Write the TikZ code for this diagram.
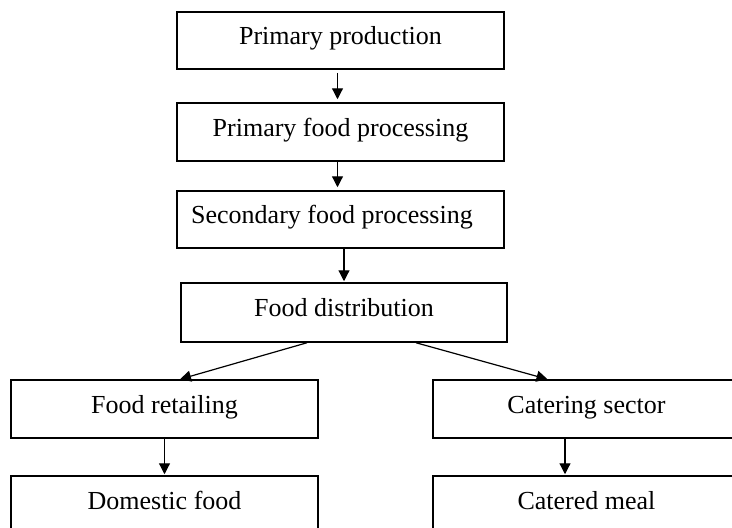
\documentclass[tikz,border=0pt]{standalone}
\usepackage{fontspec}
\setmainfont{Liberation Serif}
\usepackage{tikz}
\usetikzlibrary{arrows.meta}
\usetikzlibrary{positioning}

\tikzset{stage/.style = {draw, line width = 1.5pt, minimum height = 58pt, inner sep = 0pt, text height = 18pt, text depth = 10pt}}

\begin{document}
\begin{tikzpicture}[x = 1pt, y = -1pt, >={Triangle[length = 11pt, width = 11pt]}, font = \fontsize{26}{30}\selectfont]
\def\wideW{327pt}
\def\sideW{307pt}
\def\gap{3pt}

\useasboundingbox (0, 0) rectangle (732, 528);

% main chain
\node [stage, minimum width = \wideW, minimum height = 57pt] (prod) at (340.5, 40.5) {Primary production};
\node [stage, minimum width = \wideW] (proc1) at (340.5, 132) {Primary food processing};
\node [stage, minimum width = \wideW, minimum height = 57pt] (proc2) at (340.5, 219.5) {Secondary food processing\hspace*{17pt}};
\node [stage, minimum width = 326pt, minimum height = 59pt] (dist) at (344, 312.5) {Food distribution};

% two branches
\node [stage, minimum width = \sideW] (retail) at (164.5, 409) {Food retailing};
\node [stage, minimum width = \sideW] (cater) at (586.5, 409) {Catering sector};
\node [stage, minimum width = \sideW] (domestic) at (164.5, 505) {Domestic food};
\node [stage, minimum width = \sideW] (meal) at (586.5, 505) {Catered meal};

% arrows
\draw [->, line width = 1.2pt] ([xshift = -3pt, yshift = -\gap]prod.south) -- ([xshift = -3pt, yshift = \gap]proc1.north);
\draw [->, line width = 1.2pt] ([xshift = -3pt]proc1.south) -- ([xshift = -3pt, yshift = \gap]proc2.north);
\draw [->, line width = 1.2pt] (proc2.south -| dist.north) -- ([yshift = 1pt]dist.north);
\draw [->, line width = 1.2pt] ([xshift = -37pt]dist.south) -- ([xshift = 15.5pt]retail.north);
\draw [->, line width = 1.2pt] ([xshift = 72pt]dist.south) -- ([xshift = -39pt]cater.north);
\draw [->, line width = 1.2pt] (retail.south) -- ([yshift = 1pt]domestic.north);
\draw [->, line width = 1.2pt] ([xshift = -21.5pt]cater.south) -- ([xshift = -21.5pt, yshift = 1pt]meal.north);
\end{tikzpicture}
\end{document}
